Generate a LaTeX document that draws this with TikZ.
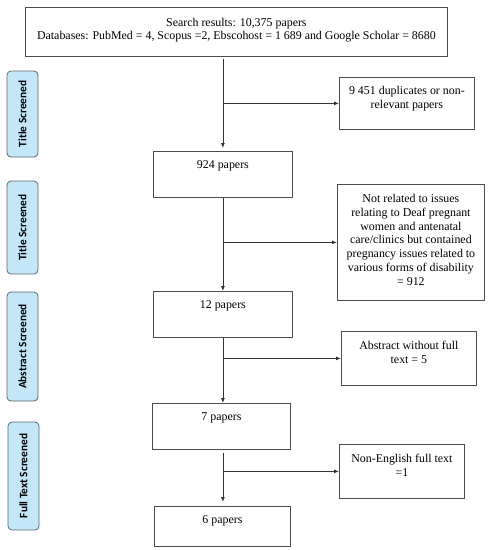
\documentclass[tikz,border=0pt]{standalone}
\usepackage{fontspec}
\setmainfont{Liberation Serif}
\newfontfamily\lblfont{Carlito}
\usetikzlibrary{arrows.meta,calc}
\definecolor{lblfill}{HTML}{C3E6F8}
\definecolor{lblborder}{HTML}{5B6770}
\newcommand{\bxt}[4]{\parbox[c][#2][t]{#1}{\centering\rule{0pt}{#3}#4\par}}
\begin{document}
\begin{tikzpicture}[x=1pt,y=-1pt,
  box/.style={draw=black!70, line width=0.8pt, inner sep=0pt, fill=white, anchor=north west},
  lbl/.style={draw=lblborder, fill=lblfill, rounded corners=4pt, line width=0.8pt, rotate=90,
    minimum height=31pt, inner sep=0pt, font=\lblfont\bfseries\fontsize{11.3}{13}\selectfont},
  arr/.style={draw=black!80, line width=0.8pt, -{Latex[length=5pt,width=4pt]}},
  font=\fontsize{11.9}{13.8}\selectfont]
\useasboundingbox (0,0) rectangle (493,550);
% main column
\node[box] (top) at (25,7) {\bxt{422pt}{49pt}{19pt}{\fontsize{11.9}{13}\selectfont Search results: 10,375 papers\\Databases: PubMed = 4, Scopus =2, Ebscohost = 1 689 and Google Scholar = 8680}};
\node[box] (p924) at (153,151) {\bxt{139pt}{46pt}{17pt}{924 papers}};
\node[box] (p12) at (153,291) {\bxt{139pt}{46pt}{17pt}{12 papers}};
\node[box] (p7) at (152,403) {\bxt{138pt}{46pt}{17pt}{7 papers}};
\node[box] (p6) at (154,506) {\bxt{136pt}{40pt}{17pt}{6 papers}};
% right column
\node[box] (d1) at (339,77) {\bxt{135pt}{52pt}{17pt}{9 451 duplicates or non-\\relevant papers}};
\node[box] (d2) at (337,184) {\bxt{147pt}{116pt}{18pt}{Not related to issues\\relating to Deaf pregnant\\women and antenatal\\care/clinics but contained\\pregnancy issues related to\\various forms of disability\\= 912}};
\node[box] (d3) at (341,331) {\bxt{135pt}{54pt}{18pt}{Abstract without full\\text = 5}};
\node[box] (d4) at (339,444) {\bxt{125pt}{54pt}{18pt}{Non-English full text\\=1}};
% stage labels
\node[lbl, minimum width=86pt] (l1) at (22.5,114) {Title Screened};
\node[lbl, minimum width=93pt] (l2) at (22.5,227.5) {Title Screened};
\node[lbl, minimum width=109pt] (l3) at (22.5,346.5) {Abstract Screened};
\node[lbl, minimum width=108pt] (l4) at (23.5,476) {Full Text Screened};
% connectors
\draw[arr, shorten <=2pt, shorten >=3pt] (top.south -| p924.north) -- (p924.north);
\draw[arr] (d1.west -| p924.north) -- (d1.west);
\draw[arr] (p924.south) -- (p12.north);
\draw[arr] (d2.west -| p924.south) -- (d2.west);
\draw[arr] (p12.south) -- (p12.south |- p7.north);
\draw[arr] (d3.west -| p12.south) -- (d3.west);
\draw[arr, shorten <=3pt, shorten >=4pt] (p7.south -| p12.south) -- (p12.south |- p6.north);
\draw[arr] (d4.west -| p12.south) -- (d4.west);
\end{tikzpicture}
\end{document}
